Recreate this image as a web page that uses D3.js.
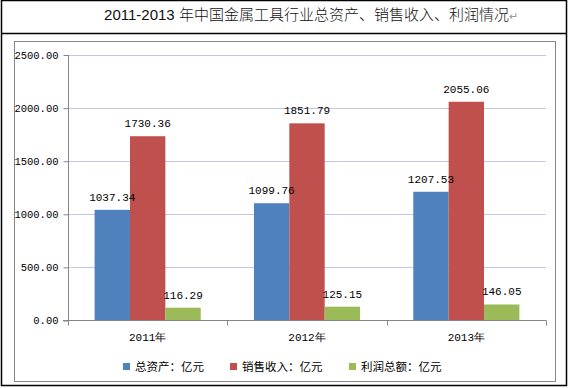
<!DOCTYPE html>
<html><head><meta charset="utf-8">
<script src="https://cdn.jsdelivr.net/npm/d3@7"></script>
<style>
html,body{margin:0;padding:0;background:#fff;}
svg{display:block;}
</style></head>
<body>
<svg id="c" width="570" height="388"></svg>
<script>
const categories = ["2011年", "2012年", "2013年"];
const seriesNames = ["总资产：亿元", "销售收入：亿元", "利润总额：亿元"];
const totalAssets = [1037.34, 1099.76, 1207.53];
const salesRevenue = [1730.36, 1851.79, 2055.06];
const totalProfit = [116.29, 125.15, 146.05];
const yTicks = [0, 500, 1000, 1500, 2000, 2500];
const colors = ["#4F81BD", "#C0504D", "#9BBB59"];
const titleText = "2011-2013 年中国金属工具行业总资产、销售收入、利润情况";

const seriesValues = [totalAssets, salesRevenue, totalProfit];
const svg = d3.select("#c");
const mono = "'Liberation Mono','DejaVu Sans Mono',monospace";
const cjk = "'Liberation Sans','Noto Sans CJK SC',sans-serif";

// outer table frame
svg.append("rect").attr("x",1.5).attr("y",0.5).attr("width",565).attr("height",385)
  .attr("fill","none").attr("stroke","#000").attr("stroke-width",1.5);
svg.append("line").attr("x1",1.5).attr("x2",566.5).attr("y1",33.5).attr("y2",33.5)
  .attr("stroke","#000").attr("stroke-width",1.5);

// title
const t = svg.append("text").attr("x",311).attr("y",20).attr("text-anchor","middle")
  .attr("font-family",cjk).attr("font-size",15).attr("font-weight",300).attr("fill","#111");
t.append("tspan").text(titleText);
t.append("tspan").attr("fill","#999").attr("font-size",11).text("↵");

// chart frame
svg.append("rect").attr("x",14.5).attr("y",41.5).attr("width",541).attr("height",340)
  .attr("fill","#fff").attr("stroke","#868686").attr("stroke-width",1);

const y = d3.scaleLinear().domain([0,2500]).range([320,54.5]);
const x0 = d3.scaleBand().domain(categories).range([68,546]).padding(0);
const x1 = d3.scaleBand().domain(d3.range(seriesNames.length))
  .range([x0.bandwidth()*0.167, x0.bandwidth()*0.833]).padding(0);

// gridlines
svg.append("g").selectAll("line").data(yTicks.filter(d=>d>0)).join("line")
  .attr("x1",68).attr("x2",546)
  .attr("y1",d=>Math.round(y(d))+0.5).attr("y2",d=>Math.round(y(d))+0.5)
  .attr("stroke","#C6C6E2").attr("stroke-width",1);

// y axis
const yAxis = svg.append("g").attr("transform","translate(68.5,0.5)")
  .call(d3.axisLeft(y).tickValues(yTicks).tickSize(5).tickPadding(5).tickFormat(d3.format(".2f")));
yAxis.selectAll("path,line").attr("stroke","#868686");
yAxis.select(".domain").attr("d","M0,"+y(2500)+"V"+y(0));
yAxis.selectAll("text").attr("font-family",mono).attr("font-size",10.5).attr("fill","#000");

// x axis
const xAxis = svg.append("g").attr("transform","translate(0,"+(Math.round(y(0))+0.5)+")");
xAxis.append("line").attr("x1",63).attr("x2",546).attr("stroke","#868686");
const bounds = categories.map(c=>x0(c)).concat([x0(categories[categories.length-1])+x0.bandwidth()]);
xAxis.selectAll("line.tk").data(bounds).join("line").attr("class","tk")
  .attr("x1",d=>Math.round(d)+0.5).attr("x2",d=>Math.round(d)+0.5).attr("y1",0).attr("y2",5)
  .attr("stroke","#868686");
xAxis.selectAll("text").data(categories).join("text")
  .attr("x",d=>x0(d)+x0.bandwidth()/2).attr("y",20).attr("text-anchor","middle")
  .attr("font-family",mono).attr("font-size",11).attr("fill","#000")
  .text(d=>d);

// bars
const items = [];
categories.forEach((cat, ci)=>{
  seriesValues.forEach((vals, si)=>{
    items.push({cat:cat, si:si, v:vals[ci]});
  });
});
const plot = svg.append("g");
plot.selectAll("rect").data(items).join("rect")
  .attr("x",d=>x0(d.cat)+x1(d.si)).attr("width",x1.bandwidth())
  .attr("y",d=>y(d.v)).attr("height",d=>y(0)-y(d.v)).attr("fill",d=>colors[d.si]);
plot.selectAll("text").data(items).join("text")
  .attr("x",d=>x0(d.cat)+x1(d.si)+x1.bandwidth()/2).attr("y",d=>y(d.v)-9)
  .attr("text-anchor","middle").attr("font-family",mono).attr("font-size",11)
  .attr("fill","#000").text(d=>d.v.toFixed(2));

// legend
const legendX = [123, 230, 349];
const lg = svg.append("g").selectAll("g").data(seriesNames).join("g")
  .attr("transform",(d,i)=>"translate("+legendX[i]+",367)");
lg.append("rect").attr("x",0).attr("y",-4).attr("width",7).attr("height",7)
  .attr("fill",(d,i)=>colors[i]);
lg.append("text").attr("x",12).attr("y",4).attr("font-family","'Noto Sans CJK SC',sans-serif").attr("font-size",11.5)
  .attr("fill","#000").text(d=>d);
</script>
</body></html>
